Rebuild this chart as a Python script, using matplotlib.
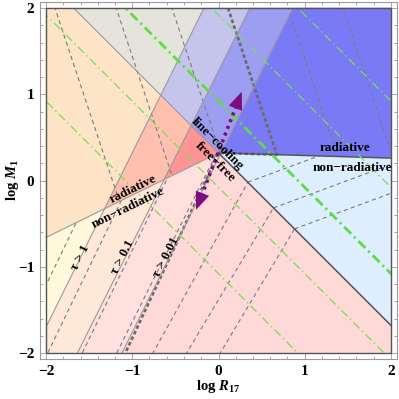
import numpy as np
import matplotlib
matplotlib.use('Agg')
import matplotlib.pyplot as plt
from matplotlib.patches import Polygon, Rectangle

plt.rcParams['font.family'] = ['Liberation Serif', 'DejaVu Serif']
plt.rcParams['font.weight'] = 'bold'
plt.rcParams['mathtext.fontset'] = 'custom'
plt.rcParams['mathtext.rm'] = 'Liberation Serif:bold'
plt.rcParams['mathtext.it'] = 'Liberation Serif:italic:bold'
plt.rcParams['mathtext.bf'] = 'Liberation Serif:bold'
plt.rcParams['lines.scale_dashes'] = False

# ---------------- data (log R17, log M1) ----------------
cool_slope = -1.0          # line-cooling (above) / free-free (below):  y = slope*x + icpt
cool_icpt = 0.32
rad_vertex_x = 0.0         # radiative (above) / non-radiative (below) boundary: broken line
rad_vertex_y = 0.32
rad_slope_left = 0.49
rad_slope_right = -0.03
tau_labels = ['τ > 1', 'τ > 0.1', 'τ > 0.01']
tau_slopes = [2.02, 2.00, 2.02]
tau_icpts = [2.34, 1.27, 0.26]
green_icpts = [2.92, 1.92, 0.92, -0.08, -1.08]      # y = -x + c
green_bold_icpt = 0.92
grayA_slope = -3.0                                   # contours in radiative zone
grayA_icpts = [-3.69, -1.56, 0.38, 2.33, 4.42, 6.33]
gray_bold_icpt = 2.33
gray_bold_bottom_x = -1.08
grayB_x0 = [-2.78, -2.38, -1.98, -1.58, -1.18, -0.76, -0.37, 0.02]   # contours, non-rad free-free
grayB_slopes = [2.07, 2.07, 2.07, 2.05, 2.00, 1.80, 1.67, 1.67]
grayC_slope = 0.37                                   # contours, non-rad line-cooling
arrow_lo = (-0.26, -0.34)
arrow_hi = (0.27, 1.03)

# colours: [tau>1, 0.1<tau<1, 0.01<tau<0.1, tau<0.01]
col_cool_rad = ['#E4E4DD', '#C4C4EC', '#9D9DF2', '#7A7AF6']
col_ff_rad = ['#FEE4C6', '#FFC0B0', '#FF9494', '#FF9494']
col_cool_nonrad = ['#DDEEFF'] * 4
col_ff_nonrad = ['#FFF8DA', '#FFE8D8', '#FFE0DC', '#FFD8D8']

# ---------------- helpers ----------------
def clip(poly, a, b, c):
    out = []
    n = len(poly)
    for i in range(n):
        P = poly[i]; Q = poly[(i + 1) % n]
        fp = a * P[0] + b * P[1] + c
        fq = a * Q[0] + b * Q[1] + c
        if fp >= 0:
            out.append(P)
        if (fp >= 0) != (fq >= 0):
            t = fp / (fp - fq)
            out.append((P[0] + t * (Q[0] - P[0]), P[1] + t * (Q[1] - P[1])))
    return out

def above(m, k):
    return (-m, 1.0, -k)

def below(m, k):
    return (m, -1.0, k)

def rad_y(x):
    s = rad_slope_left if x < rad_vertex_x else rad_slope_right
    return rad_vertex_y + s * (x - rad_vertex_x)

xv, yv = rad_vertex_x, rad_vertex_y
above_R = [(-2, rad_y(-2)), (xv, yv), (2, rad_y(2)), (2, 2), (-2, 2)]
below_R = [(-2, -2), (2, -2), (2, rad_y(2)), (xv, yv), (-2, rad_y(-2))]

fig = plt.figure(figsize=(3.99, 3.99), dpi=100)
ax = fig.add_axes([40 / 399, 40 / 399, 357 / 399, 357 / 399])
pad = 6 / 86.25
ax.set_xlim(-2 - pad, 2 + pad)
ax.set_ylim(-2 - pad, 2 + pad)

frame = Rectangle((-2, -2), 4, 4, transform=ax.transData, facecolor='none')

def band_poly(base, half):
    polys = []
    for i in range(4):
        p = clip(base, *half)
        if i > 0:
            p = clip(p, *below(tau_slopes[i - 1], tau_icpts[i - 1]))
        if i < 3 and len(p) > 2:
            p = clip(p, *above(tau_slopes[i], tau_icpts[i]))
        polys.append(p)
    return polys

for base, half, cols in [(above_R, above(cool_slope, cool_icpt), col_cool_rad),
                         (above_R, below(cool_slope, cool_icpt), col_ff_rad),
                         (below_R, above(cool_slope, cool_icpt), col_cool_nonrad),
                         (below_R, below(cool_slope, cool_icpt), col_ff_nonrad)]:
    for p, c in zip(band_poly(base, half), cols):
        if len(p) > 2:
            ax.add_patch(Polygon(p, closed=True, facecolor=c, edgecolor=c, lw=0.4, zorder=1))

# region polygons for clipping contours
polyA = Polygon(above_R, closed=True, transform=ax.transData)
polyB = Polygon(clip(below_R, *below(cool_slope, cool_icpt)), closed=True, transform=ax.transData)
polyC = Polygon(clip(below_R, *above(cool_slope, cool_icpt)), closed=True, transform=ax.transData)

xs = np.linspace(-3, 3, 400)
thin_dash = dict(color='#7A7A7A', lw=0.8, dashes=(3.0, 2.4), zorder=3)

# gray contours in radiative zone
for b in grayA_icpts:
    if b == gray_bold_icpt:
        continue
    ln, = ax.plot(xs, grayA_slope * xs + b, **thin_dash)
    ln.set_clip_path(polyA)

# non-radiative free-free and line-cooling zones
for x0, s in zip(grayB_x0, grayB_slopes):
    ln, = ax.plot(xs, -2 + s * (xs - x0), **thin_dash)
    ln.set_clip_path(polyB)
    xi = (cool_icpt + 2 + s * x0) / (s - cool_slope)
    yi = cool_slope * xi + cool_icpt
    if yi < rad_y(xi) and xi < 2:
        xc = np.linspace(xi, 3, 50)
        ln, = ax.plot(xc, yi + grayC_slope * (xc - xi), **thin_dash)
        ln.set_clip_path(polyC)

# heavy dashed contour
xt = (gray_bold_icpt - 2) / (-grayA_slope)
xi = (gray_bold_icpt - yv + rad_slope_right * xv) / (-grayA_slope + rad_slope_right)
yi = rad_y(xi)
hx = [xt, xi, xv, gray_bold_bottom_x]
hy = [2, yi, yv, -2]
ln, = ax.plot(hx, hy, color='#6A6A6A', lw=1.9, dashes=(2.6, 1.8), zorder=3)
ln.set_clip_path(frame)

# boundaries
for m, k in zip(tau_slopes, tau_icpts):
    ln, = ax.plot(xs, m * xs + k, color='#9A9A9A', lw=0.8, zorder=4)
    ln.set_clip_path(frame)
xl = np.array([-2.2, xv])
ln, = ax.plot(xl, cool_slope * xl + cool_icpt, color='#9A9A9A', lw=0.8, zorder=4)
ln.set_clip_path(frame)
xr = np.array([xv, 2.2])
ln, = ax.plot(xr, cool_slope * xr + cool_icpt, color='#555555', lw=1.1, zorder=4)
ln.set_clip_path(frame)
ax.plot([-2, xv], [rad_y(-2), yv], color='#9A9A9A', lw=0.8, zorder=4)
ax.plot([xv, 2], [yv, rad_y(2)], color='#555555', lw=1.1, zorder=4)

# green contours
for c in green_icpts:
    if c == green_bold_icpt:
        ln, = ax.plot(xs, -xs + c, color='#5FDD3C', lw=2.0, dashes=(7, 3, 1.5, 3), zorder=5)
    else:
        ln, = ax.plot(xs, -xs + c, color='#74E050', lw=0.9, dashes=(6, 2.5, 1.2, 2.5), zorder=5)
    ln.set_clip_path(frame)

# inner frame
ax.add_patch(Rectangle((-2, -2), 4, 4, facecolor='none', edgecolor='#555555', lw=1.0, zorder=6))

# purple double arrow
purple = '#7E0C7E'
p0 = np.array(arrow_lo); p1 = np.array(arrow_hi)
u = (p1 - p0) / np.linalg.norm(p1 - p0)
hl = 0.17
ax.plot([p0[0] + u[0] * hl, p1[0] - u[0] * hl], [p0[1] + u[1] * hl, p1[1] - u[1] * hl],
        color=purple, lw=2.6, dashes=(2.2, 3.0), solid_capstyle='butt', dash_capstyle='butt', zorder=7)
for tip, back in [(p1, p1 - u * hl * 1.1), (p0, p0 + u * hl * 1.1)]:
    ax.annotate('', xy=tuple(tip), xytext=tuple(back),
                arrowprops=dict(arrowstyle='-|>,head_length=0.75,head_width=0.3',
                                mutation_scale=17, color=purple, lw=0,
                                shrinkA=0, shrinkB=0), zorder=7)

# texts
tk = dict(fontsize=9.5, fontweight='bold', ha='center', va='center', rotation_mode='anchor', zorder=8)
ax.text(1.47, 0.38, 'radiative', **tk)
ax.text(1.55, 0.145, 'non−radiative', **tk)
ax.text(-0.02, 0.42, 'line−cooling', rotation=-45, **tk)
ax.text(-0.04, 0.21, 'free−free', rotation=-45, **tk)
ax.text(-0.99, -0.10, 'radiative', rotation=26, **tk)
ax.text(-1.05, -0.32, 'non−radiative', rotation=26, **tk)
for lab, xp in zip(tau_labels, [-1.606, -1.107, -0.609]):
    ax.text(xp, -0.89, lab, rotation=63, **tk)

# axes styling
for sp in ax.spines.values():
    sp.set_color('#9A9A9A'); sp.set_linewidth(0.8)
ax.set_xticks([-2, -1, 0, 1, 2]); ax.set_yticks([-2, -1, 0, 1, 2])
ax.set_xticks(np.arange(-2, 2.01, 0.2), minor=True)
ax.set_yticks(np.arange(-2, 2.01, 0.2), minor=True)
ax.tick_params(which='both', direction='in', top=True, right=True, color='#9A9A9A', width=0.6,
               labelsize=11)
ax.tick_params(which='major', length=4)
ax.tick_params(which='minor', length=2)
ax.tick_params(axis='x', pad=4)
ax.tick_params(axis='y', pad=4)
for lab in ax.get_xticklabels() + ax.get_yticklabels():
    lab.set_fontweight('bold')
ax.set_xlabel(r'log $R_{17}$', fontsize=10.5, fontweight='bold', labelpad=0)
ax.set_ylabel(r'log $M_{1}$', fontsize=10.5, fontweight='bold', labelpad=-2)

fig.savefig('out.png', dpi=100)
